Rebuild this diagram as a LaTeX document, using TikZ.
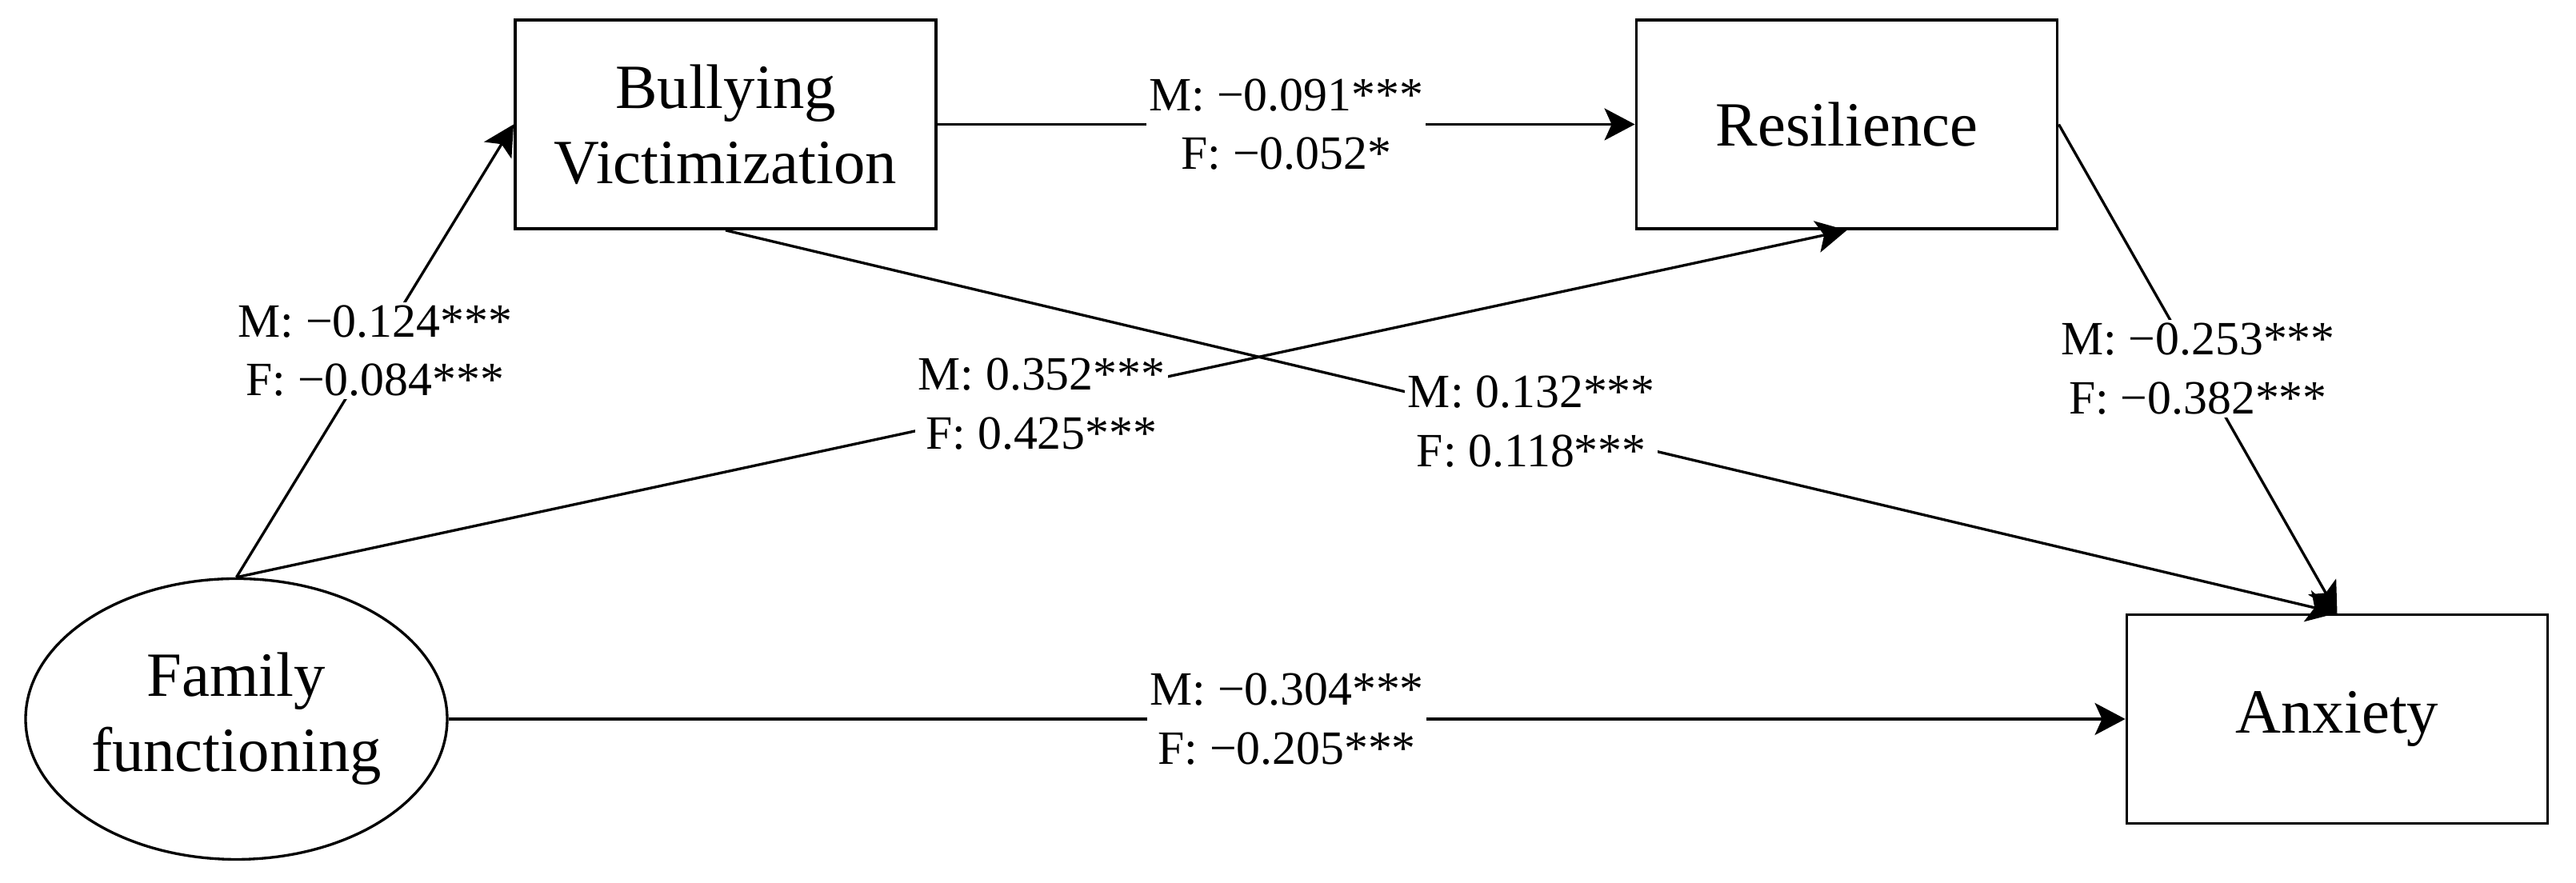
\documentclass[tikz,border=0pt]{standalone}
\usepackage{fontspec}
\setmainfont{Liberation Serif}
\usetikzlibrary{arrows.meta,shapes.geometric}

\begin{document}
\begin{tikzpicture}[
    obs/.style={draw, line width=1.1pt, minimum width=5.26cm, minimum height=2.61cm, inner sep=0pt, align=center, font=\fontsize{22.4}{26.7}\selectfont},
    latent/.style={draw, ellipse, line width=0.95pt, minimum width=5.27cm, minimum height=3.51cm, inner sep=0pt, align=center, font=\fontsize{22.4}{26.7}\selectfont},
    coef/.style={fill=white, inner sep=1pt, align=center, font=\fontsize{17}{21}\selectfont},
    effect/.style={line width=0.95pt, -{Stealth[length=0.38cm, width=0.4cm, inset=0.09cm]}}
]
        \useasboundingbox (0,0) rectangle (32.2,11.04);

        \node[latent] (family) at (2.955, 2.05) {Family\\functioning};
        \node[obs]    (bully)  at (9.07, 9.485) {Bullying\\Victimization};
        \node[obs]    (resil)  at (23.085, 9.485) {Resilience};
        \node[obs]    (anx)    at (29.215, 2.05) {Anxiety};

        \draw[effect] (family.north) -- (bully.west) node[coef, midway] {M: −0.124***\\F: −0.084***};
        \draw[effect] (family.north) -- (resil.south) node[coef, midway] {M: 0.352***\\F: 0.425***};
        \draw[effect] (bully.east) -- (resil.west) node[coef, midway] {M: −0.091***\\F: −0.052*};
        \draw[effect] (bully.south) -- (anx.north) node[coef, midway] {M: 0.132***\\F: 0.118***};
        \draw[effect] (resil.east) -- (anx.north) node[coef, midway] {M: −0.253***\\F: −0.382***};
        \draw[effect] (family.east) -- (anx.west) node[coef, midway] {M: −0.304***\\F: −0.205***};
\end{tikzpicture}
\end{document}
